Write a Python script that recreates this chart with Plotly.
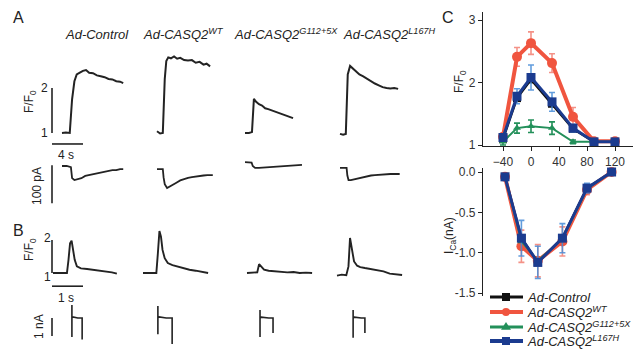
import plotly.graph_objects as go

W, H = 644, 349

# ---------------- data ----------------
GROUPS = ["Ad-Control", "Ad-CASQ2<sup>WT</sup>", "Ad-CASQ2<sup>G112+5X</sup>", "Ad-CASQ2<sup>L167H</sup>"]

# Panel A: Ca transients (F/F0), time in s
CTRL_A_T = [0, 0.5, 1.0, 1.1, 1.3, 1.6, 1.9, 2.3, 2.7, 3.1, 3.5, 4.0, 4.5, 5.0, 5.5, 6.0, 6.5, 7.0, 7.5, 7.9]
CTRL_A_F = [1.0, 1.01, 1.0, 1.3, 1.75, 2.15, 2.3, 2.34, 2.38, 2.40, 2.34, 2.33, 2.28, 2.26, 2.24, 2.2, 2.19, 2.15, 2.14, 2.11]
WT_A_T = [0, 0.4, 0.75, 0.85, 1.0, 1.2, 1.45, 1.8, 2.2, 2.6, 3.0, 3.5, 4.0, 4.5, 5.0, 5.5, 6.0, 6.4, 6.85]
WT_A_F = [1.04, 0.99, 1.0, 1.5, 2.2, 2.6, 2.68, 2.66, 2.7, 2.65, 2.67, 2.62, 2.61, 2.62, 2.56, 2.58, 2.52, 2.54, 2.48]
G_A_T = [0, 0.5, 0.9, 1.0, 1.15, 1.4, 1.8, 2.2, 2.6, 3.0, 3.5, 4.0, 4.5, 5.0, 5.5, 6.2]
G_A_F = [1.0, 1.0, 1.02, 1.5, 1.76, 1.7, 1.64, 1.61, 1.55, 1.53, 1.5, 1.46, 1.44, 1.4, 1.38, 1.33]
L_A_T = [0, 0.4, 0.75, 0.85, 1.0, 1.3, 1.6, 2.0, 2.5, 3.0, 3.5, 4.0, 4.5, 5.0, 5.5, 6.0, 6.5, 7.0, 7.5]
L_A_F = [0.98, 0.96, 0.98, 1.6, 2.3, 2.49, 2.44, 2.39, 2.3, 2.26, 2.2, 2.15, 2.1, 2.06, 2.02, 2.0, 1.99, 2.0, 1.98]

# Panel A: membrane currents (pA)
CTRL_AI_T = [0, 0.6, 1.15, 1.3, 1.6, 2.0, 2.5, 3.0, 3.5, 4.0, 4.5, 5.0, 5.5, 6.0, 6.5, 7.0, 7.5, 7.9]
CTRL_AI = [0, 0, -3, -32, -37, -34, -32, -26, -24, -21, -18, -16, -16, -13, -11, -11, -8, -8]
WT_AI_T = [0, 0.4, 0.75, 0.85, 1.0, 1.3, 1.6, 2.0, 2.5, 3.0, 3.5, 4.0, 4.5, 5.0, 5.5, 6.0, 6.5, 7.2]
WT_AI = [-8, -8, -8, -30, -48, -58, -55, -50, -44, -38, -34, -31, -29, -27, -26, -25, -24, -24]
G_AI_T = [0, 0.5, 0.85, 1.0, 1.3, 1.8, 2.5, 3.0, 3.5, 4.0, 4.5, 5.0, 5.5, 6.0, 6.5, 7.0, 7.35]
G_AI = [10, 10, 9, 0, -5, -5, -4, -4, -3, -2, -1, 0, 0, 1, 2, 3, 3]
L_AI_T = [0, 0.5, 0.85, 0.95, 1.1, 1.4, 1.8, 2.5, 3.0, 3.5, 4.0, 4.5, 5.0, 5.5, 6.0, 6.5, 7.0, 7.7]
L_AI = [-5, -5, -5, -25, -37, -37, -35, -32, -29, -27, -25, -24, -23, -22, -22, -21, -21, -21]

# Panel B: Ca transients (F/F0)
CTRL_B_T = [0, 0.2, 0.45, 0.5, 0.55, 0.6, 0.65, 0.7, 0.77, 0.9, 1.1, 1.3, 1.5, 1.7, 1.9, 2.06]
CTRL_B_F = [1.0, 1.01, 1.0, 1.4, 1.9, 1.98, 1.7, 1.4, 1.2, 1.14, 1.12, 1.1, 1.07, 1.04, 1.02, 0.98]
WT_B_T = [0, 0.2, 0.43, 0.48, 0.53, 0.58, 0.63, 0.7, 0.8, 0.95, 1.1, 1.3, 1.5, 1.7, 1.9, 2.1]
WT_B_F = [1.0, 1.0, 1.0, 1.6, 2.27, 2.1, 1.7, 1.45, 1.3, 1.24, 1.2, 1.15, 1.1, 1.07, 1.04, 1.0]
G_B_T = [0, 0.2, 0.33, 0.39, 0.45, 0.55, 0.7, 0.9, 1.1, 1.3, 1.5, 1.7, 1.9, 2.1]
G_B_F = [1.0, 1.0, 1.02, 1.27, 1.2, 1.1, 1.07, 1.05, 1.04, 1.02, 1.03, 1.0, 1.01, 1.0]
L_B_T = [0, 0.15, 0.3, 0.37, 0.42, 0.48, 0.55, 0.65, 0.75, 0.9, 1.1, 1.3, 1.5, 1.7, 1.9, 2.1]
L_B_F = [0.92, 0.95, 0.93, 1.2, 2.06, 1.7, 1.35, 1.22, 1.18, 1.15, 1.12, 1.08, 1.05, 0.98, 0.96, 0.94]

# Panel B: currents (nA)
CTRL_BI_T = [0.61, 0.61, 0.61, 0.64, 0.7, 0.8, 0.94, 0.94]
CTRL_BI = [-1.05, 0.72, 0.0, 0.06, 0.03, 0.0, 0.0, -1.2]
WT_BI_T = [0.48, 0.48, 0.48, 0.52, 0.6, 0.75, 0.94, 0.94]
WT_BI = [-0.9, 0.67, 0.0, 0.06, 0.03, 0.0, 0.0, -1.45]
G_BI_T = [0.42, 0.42, 0.42, 0.46, 0.55, 0.7, 0.84, 0.84]
G_BI = [-1.05, 0.45, 0.0, 0.05, 0.02, 0.0, 0.0, -0.83]
L_BI_T = [0.52, 0.52, 0.52, 0.56, 0.65, 0.78, 0.9, 0.9]
L_BI = [-1.1, 0.45, 0.0, 0.05, 0.02, 0.0, 0.0, -0.83]

# Scale bars
SCALE_A_T = 4      # s
SCALE_A_I = 100    # pA
SCALE_B_T = 1      # s
SCALE_B_I = 1      # nA

# Panel C: F/F0 vs voltage (mV)
V_F = [-40, -20, 0, 30, 60, 90, 120]
CTRL_C_F = [1.1, 1.75, 2.05, 1.66, 1.26, 1.05, 1.05]
WT_C_F = [1.13, 2.41, 2.63, 2.31, 1.45, 1.06, 1.06]
WT_C_FE = [0.05, 0.15, 0.18, 0.15, 0.15, 0.05, 0.05]
G_C_F = [1.05, 1.27, 1.30, 1.27, 1.05, 1.05, 1.05]
G_C_FE = [0.05, 0.08, 0.1, 0.1, 0.03, 0.03, 0.03]
L_C_F = [1.12, 1.78, 2.08, 1.69, 1.27, 1.05, 1.05]
L_C_FE = [0.05, 0.12, 0.2, 0.15, 0.06, 0.03, 0.03]
F_TICKS = [1, 2, 3]

# Panel C: ICa (nA) vs voltage (mV)
V_I = [-40, -20, 0, 30, 60, 90]
CTRL_C_I = [-0.06, -0.82, -1.12, -0.82, -0.2, 0.0]
WT_C_I = [-0.06, -0.92, -1.1, -0.86, -0.22, 0.0]
WT_C_IE = [0.03, 0.2, 0.2, 0.18, 0.06, 0.02]
G_C_I = [-0.06, -0.86, -1.1, -0.83, -0.21, 0.0]
L_C_I = [-0.06, -0.82, -1.12, -0.82, -0.2, 0.0]
L_C_IE = [0.03, 0.22, 0.2, 0.18, 0.06, 0.02]

# ---------------- layout helpers ----------------
FONT = "Liberation Sans, Arial, sans-serif"
TRACE_C = "#232323"
layout = dict(width=W, height=H, margin=dict(l=0, r=0, t=0, b=0, pad=0), autosize=False,
              paper_bgcolor="white", plot_bgcolor="rgba(0,0,0,0)", showlegend=False,
              font=dict(family=FONT, color="#222"), annotations=[], shapes=[])
fig = go.Figure()
counter = [0]


def xdom(p0, p1):
    return [max(0, p0 / W), min(1, p1 / W)]


def ydom(top, bottom):
    return [max(0, 1 - bottom / H), min(1, 1 - top / H)]


def add_axes(px0, px1, ox, sx, top, bottom, oy, vy, sy, xextra=None, yextra=None):
    counter[0] += 1
    k = counter[0]
    s = "" if k == 1 else str(k)
    xa = dict(domain=xdom(px0, px1), range=[(px0 - ox) / sx, (px1 - ox) / sx],
              visible=False, anchor="y" + s, fixedrange=True, showgrid=False, zeroline=False,
              automargin=False)
    ya = dict(domain=ydom(top, bottom), range=[vy - (bottom - oy) / sy, vy + (oy - top) / sy],
              visible=False, anchor="x" + s, fixedrange=True, showgrid=False, zeroline=False,
              automargin=False)
    if xextra:
        xa.update(xextra)
    if yextra:
        ya.update(yextra)
    layout["xaxis" + s] = xa
    layout["yaxis" + s] = ya
    return "x" + s, "y" + s


def line(x, y, xa, ya, width=1.8, color=TRACE_C):
    fig.add_trace(go.Scatter(x=x, y=y, xaxis=xa, yaxis=ya, mode="lines", showlegend=False,
                             line=dict(color=color, width=width), hoverinfo="skip"))


def text(px, py, s, size=13, italic=False, xanchor="center", angle=0, color="#222"):
    layout["annotations"].append(dict(
        x=px / W, y=1 - py / H, xref="paper", yref="paper", text=(f"<i>{s}</i>" if italic else s),
        showarrow=False, xanchor=xanchor, yanchor="middle", textangle=angle, borderpad=0,
        font=dict(size=size, family=FONT, color=color)))


def px2p(px, py):
    return px / W, 1 - py / H


# ---------------- panel A / B traces ----------------
A_ORIG = [62, 157, 245, 340]
B_ORIG = [53, 143, 247, 337]
A_CA = [(CTRL_A_T, CTRL_A_F), (WT_A_T, WT_A_F), (G_A_T, G_A_F), (L_A_T, L_A_F)]
A_I = [(CTRL_AI_T, CTRL_AI), (WT_AI_T, WT_AI), (G_AI_T, G_AI), (L_AI_T, L_AI)]
B_CA = [(CTRL_B_T, CTRL_B_F), (WT_B_T, WT_B_F), (G_B_T, G_B_F), (L_B_T, L_B_F)]
B_I = [(CTRL_BI_T, CTRL_BI), (WT_BI_T, WT_BI), (G_BI_T, G_BI), (L_BI_T, L_BI)]

SXA, SXB = 7.75, 31.0
for c in range(4):
    oa, ob = A_ORIG[c], B_ORIG[c]
    p0a = 45 if c == 0 else oa - 14
    p0b = 45 if c == 0 else ob - 14
    xa, ya = add_axes(p0a, oa + 80, oa, SXA, 40, 150, 133, 1.0, 45.0)
    line(*A_CA[c], xa, ya, 2.0)
    if c == 0:
        t0 = (52 - oa) / SXA
        line([t0, t0], [1, 2], xa, ya, 1.6)
        line([t0, t0 + SCALE_A_T], [0.756, 0.756], xa, ya, 1.6)
    xa, ya = add_axes(p0a, oa + 80, oa, SXA, 150, 215, 166, 0.0, 0.38)
    line(*A_I[c], xa, ya, 1.8)
    if c == 0:
        t0 = (52 - oa) / SXA
        line([t0, t0], [2, 2 - SCALE_A_I], xa, ya, 1.6)
    xa, ya = add_axes(p0b, ob + 80, ob, SXB, 220, 292, 273, 1.0, 33.0)
    line(*B_CA[c], xa, ya, 1.9)
    if c == 0:
        t0 = (52 - ob) / SXB
        line([t0, t0], [1, 2], xa, ya, 1.6)
        line([t0, t0 + SCALE_B_T], [0.6, 0.6], xa, ya, 1.6)
    xa, ya = add_axes(p0b, ob + 80, ob, SXB, 295, 349, 318, 0.0, 18.0)
    line(*B_I[c], xa, ya, 1.6)
    if c == 0:
        t0 = (52 - ob) / SXB
        line([t0, t0], [0, -SCALE_B_I], xa, ya, 1.6)

# ---------------- panel C ----------------
RED, RED_E = "#f0553f", "rgba(240,110,95,0.75)"
BLUE, BLUE_E = "#1b3b8f", "rgba(70,140,215,0.85)"
GREEN = "#23905a"
BLACK = "#111111"
tickfont = dict(size=12, family=FONT, color="#333")
axline = dict(showline=True, linecolor="#222", linewidth=1.3, ticks="outside", ticklen=4,
              tickcolor="#222", tickfont=tickfont, showgrid=False, zeroline=False,
              ticklabeloverflow="allow")

xt, yt = add_axes(483, 633, 531, 0.7, 12, 146, 145, 1.0, 62.5,
                  xextra=dict(visible=True, tickvals=[-40, 0, 40, 80, 120], **axline),
                  yextra=dict(visible=True, tickmode="array", tickvals=F_TICKS,
                              ticktext=[str(v) for v in F_TICKS], **axline))
xb, yb = add_axes(483, 633, 537.8, 0.82, 168, 296, 172, 0.0, 80.7,
                  yextra=dict(visible=True, tickvals=[0, -0.5, -1.0, -1.5],
                              ticktext=["0.0", "-0.5", "-1.0", "-1.5"], **axline))

series = [
    ("Ad-Control", CTRL_C_F, None, CTRL_C_I, None, BLACK, "square", 8, 2.5, BLACK),
    ("Ad-CASQ2<sup>WT</sup>", WT_C_F, WT_C_FE, WT_C_I, WT_C_IE, RED, "circle", 10, 4, RED_E),
    ("Ad-CASQ2<sup>G112+5X</sup>", G_C_F, G_C_FE, G_C_I, None, GREEN, "triangle-up", 7, 2, GREEN),
    ("Ad-CASQ2<sup>L167H</sup>", L_C_F, L_C_FE, L_C_I, L_C_IE, BLUE, "square", 9, 3, BLUE_E),
]
for name, f, fe, i, ie, col, sym, ms, lw, ecol in series:
    fig.add_trace(go.Scatter(
        x=V_F, y=f, xaxis=xt, yaxis=yt, mode="lines+markers", name=name,
        line=dict(color=col, width=lw), marker=dict(color=col, symbol=sym, size=ms),
        error_y=(dict(type="data", array=fe, color=ecol, thickness=1.6, width=3) if fe else None),
        cliponaxis=False, showlegend=False))
    fig.add_trace(go.Scatter(
        x=V_I, y=i, xaxis=xb, yaxis=yb, mode="lines+markers", name=name,
        line=dict(color=col, width=lw), marker=dict(color=col, symbol=sym, size=ms),
        error_y=(dict(type="data", array=ie, color=ecol, thickness=1.6, width=3) if ie else None),
        cliponaxis=False, showlegend=False))

# ---------------- manual legend (key) ----------------
LEG_Y = [297, 312, 327, 341]
LEG_W = [3, 4, 3, 4]
for (name, f, fe, i, ie, col, sym, ms, lw, ecol), ly, kw in zip(series, LEG_Y, LEG_W):
    x0, y0 = px2p(490, ly)
    x1, _ = px2p(523, ly)
    layout["shapes"].append(dict(type="line", xref="paper", yref="paper", x0=x0, x1=x1, y0=y0, y1=y0,
                                 line=dict(color=col, width=kw)))
    r = 4
    cx = 506
    if sym == "square":
        a, b = px2p(cx - r, ly - r)
        c2, d = px2p(cx + r, ly + r)
        layout["shapes"].append(dict(type="rect", xref="paper", yref="paper", x0=a, x1=c2, y0=d, y1=b,
                                     fillcolor=col, line=dict(width=0)))
    elif sym == "circle":
        a, b = px2p(cx - r, ly - r)
        c2, d = px2p(cx + r, ly + r)
        layout["shapes"].append(dict(type="circle", xref="paper", yref="paper", x0=a, x1=c2, y0=d, y1=b,
                                     fillcolor=col, line=dict(width=0)))
    else:
        p1 = px2p(cx, ly - r - 1)
        p2 = px2p(cx - r - 1, ly + r * 0.7)
        p3 = px2p(cx + r + 1, ly + r * 0.7)
        layout["shapes"].append(dict(type="path", xref="paper", yref="paper",
                                     path=f"M {p1[0]},{p1[1]} L {p2[0]},{p2[1]} L {p3[0]},{p3[1]} Z",
                                     fillcolor=col, line=dict(width=0)))
    text(526, ly, name, 13, italic=True, xanchor="left")

# ---------------- text ----------------
text(18, 17, "A", 16)
text(18, 230, "B", 16)
text(448, 17, "C", 16)
head_x = [64, 142, 233, 342]
for g, hx in zip(GROUPS, head_x):
    text(hx, 34, g, 13, italic=True, xanchor="left")
text(30, 102, "F/F<sub>0</sub>", 12, angle=-90)
text(45, 88, "2", 12)
text(45, 133, "1", 12)
text(66, 155, "4 s", 12)
text(37, 186, "100 pA", 12, angle=-90)
text(30, 250, "F/F<sub>0</sub>", 12, angle=-90)
text(47, 238, "2", 12)
text(47, 277, "1", 12)
text(66, 298, "1 s", 12)
text(39, 327, "1 nA", 12, angle=-90)
text(460, 82, "F/F<sub>0</sub>", 12, angle=-90)
text(450, 236, "I<sub>Ca</sub>(nA)", 12, angle=-90)

fig.update_layout(**layout)
fig.write_html("out.html", config={"displayModeBar": False},
               post_script="document.body.style.margin='0';document.body.style.overflow='hidden';")
